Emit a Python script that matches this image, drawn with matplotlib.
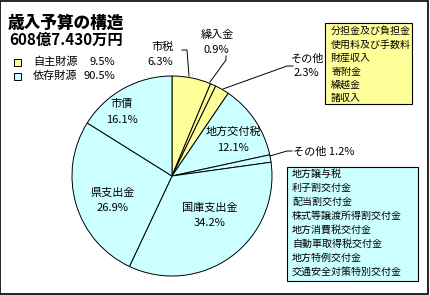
import matplotlib.pyplot as plt
from matplotlib.patches import Rectangle

plt.rcParams['font.family'] = ['Noto Sans CJK JP', 'DejaVu Sans']

# data
labels = ['市税', '繰入金', 'その他', '地方交付税', 'その他', '国庫支出金', '県支出金', '市債']
shares = [6.3, 0.9, 2.3, 12.1, 1.2, 34.2, 26.9, 16.1]
groups = ['自主', '自主', '自主', '依存', '依存', '依存', '依存', '依存']
group_names = ['自主財源', '依存財源']
group_shares = [9.5, 90.5]
own_items = ['分担金及び負担金', '使用料及び手数料', '財産収入', '寄附金', '繰越金', '諸収入']
dep_items = ['地方譲与税', '利子割交付金', '配当割交付金', '株式等譲渡所得割交付金',
             '地方消費税交付金', '自動車取得税交付金', '地方特例交付金', '交通安全対策特別交付金']

yellow = '#FFFF99'
cyan = '#CCFFFF'
colors = [yellow if g == '自主' else cyan for g in groups]

W, H = 431, 295
fig = plt.figure(figsize=(W / 100, H / 100), dpi=100)

# pie drawn in its own axes, centre (172,176) px, radius 100 px
pax = fig.add_axes([(172 - 100) / W, (295 - 176 - 100) / H, 200 / W, 200 / H])
pax.pie(shares, colors=colors, startangle=90, counterclock=False,
        wedgeprops=dict(edgecolor='black', linewidth=0.7))
pax.set_xlim(-1, 1)
pax.set_ylim(-1, 1)
pax.set_aspect('auto')
pax.axis('off')

# overlay axes in pixel coordinates for text and boxes
ax = fig.add_axes([0, 0, 1, 1])
ax.set_xlim(0, W)
ax.set_ylim(H, 0)
ax.axis('off')
ax.set_zorder(3)

fs = 8
lab_pos = [(163, 47, 160, 62), (217, 35, 216, 50), (308, 59, 306, 73),
           (233, 132, 233, 148), None, (210, 208, 210, 223),
           (113, 193, 113, 208), (122, 104, 122, 120)]
for name, v, p in zip(labels, shares, lab_pos):
    if p is None:
        continue
    ax.text(p[0], p[1], name, ha='center', va='center', fontsize=fs)
    ax.text(p[2], p[3], f'{v}%', ha='center', va='center', fontsize=fs)
ax.text(293, 152, f'{labels[4]} {shares[4]}%', ha='left', va='center', fontsize=fs)

# leader lines
lk = dict(color='black', linewidth=0.7)
ax.plot([182, 187, 189], [50, 50, 76], **lk)
ax.plot([226, 226, 210], [56, 60, 82], **lk)
ax.plot([223, 287, 293], [89, 66, 66], **lk)
ax.plot([270, 287, 292], [156, 151, 151], **lk)

# title
ax.text(66, 23, '歳入予算の構造', ha='center', va='center', fontsize=12, fontweight='black')
ax.text(66, 40, '608億7.430万円', ha='center', va='center', fontsize=11, fontweight='bold')

# group legend
for i, (gn, gs, c) in enumerate(zip(group_names, group_shares, [yellow, cyan])):
    y = 62 + i * 14
    ax.add_patch(Rectangle((14, y - 3.5), 7, 7, facecolor=c, edgecolor='black', linewidth=0.7))
    ax.text(33, y, gn, ha='left', va='center', fontsize=fs)
    ax.text(115, y, f'{gs}%', ha='right', va='center', fontsize=fs)

# item boxes
ax.add_patch(Rectangle((325, 23), 87, 81, facecolor=yellow, edgecolor='black', linewidth=0.8))
for i, t in enumerate(own_items):
    ax.text(331, 31 + i * 13.5, t, ha='left', va='center', fontsize=7.2)
ax.add_patch(Rectangle((287, 167), 131, 114, facecolor=cyan, edgecolor='black', linewidth=0.8))
for i, t in enumerate(dep_items):
    ax.text(292, 174 + i * 14, t, ha='left', va='center', fontsize=7.2)

# frame
ax.add_patch(Rectangle((0.5, 0.5), W - 3, H - 2, fill=False, edgecolor='black', linewidth=1.2))

fig.savefig('out.png', dpi=100)
